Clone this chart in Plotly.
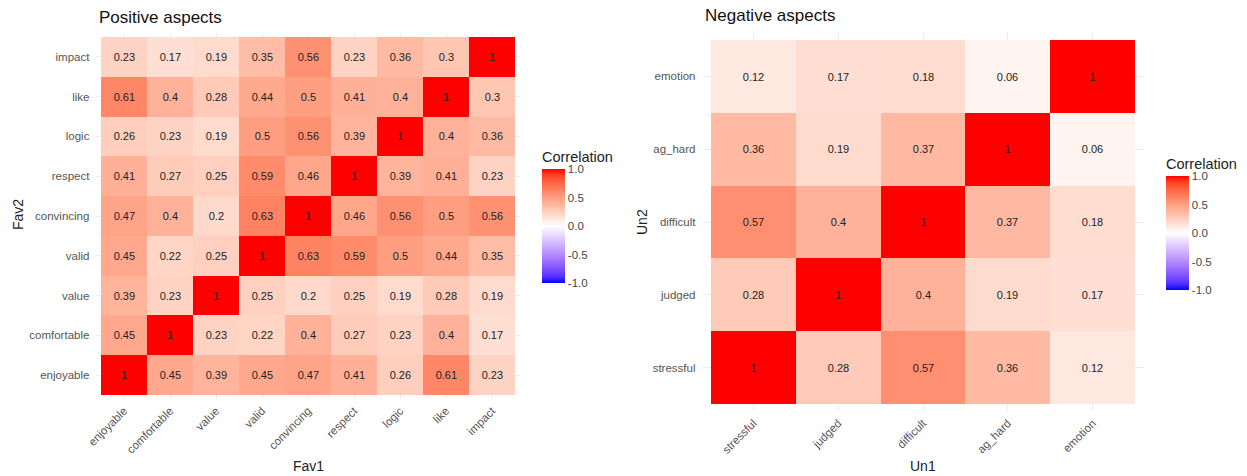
import plotly.graph_objects as go

# ---------------- data ----------------
pos_labels = ["enjoyable", "comfortable", "value", "valid", "convincing",
              "respect", "logic", "like", "impact"]
# rows follow pos_labels order (bottom -> top), columns follow pos_labels order
pos_enjoyable   = [1, 0.45, 0.39, 0.45, 0.47, 0.41, 0.26, 0.61, 0.23]
pos_comfortable = [0.45, 1, 0.23, 0.22, 0.4, 0.27, 0.23, 0.4, 0.17]
pos_value       = [0.39, 0.23, 1, 0.25, 0.2, 0.25, 0.19, 0.28, 0.19]
pos_valid       = [0.45, 0.22, 0.25, 1, 0.63, 0.59, 0.5, 0.44, 0.35]
pos_convincing  = [0.47, 0.4, 0.2, 0.63, 1, 0.46, 0.56, 0.5, 0.56]
pos_respect     = [0.41, 0.27, 0.25, 0.59, 0.46, 1, 0.39, 0.41, 0.23]
pos_logic       = [0.26, 0.23, 0.19, 0.5, 0.56, 0.39, 1, 0.4, 0.36]
pos_like        = [0.61, 0.4, 0.28, 0.44, 0.5, 0.41, 0.4, 1, 0.3]
pos_impact      = [0.23, 0.17, 0.19, 0.35, 0.56, 0.23, 0.36, 0.3, 1]

neg_labels = ["stressful", "judged", "difficult", "ag_hard", "emotion"]
neg_stressful = [1, 0.28, 0.57, 0.36, 0.12]
neg_judged    = [0.28, 1, 0.4, 0.19, 0.17]
neg_difficult = [0.57, 0.4, 1, 0.37, 0.18]
neg_ag_hard   = [0.36, 0.19, 0.37, 1, 0.06]
neg_emotion   = [0.12, 0.17, 0.18, 0.06, 1]

cb_ticks = [-1, -0.5, 0, 0.5, 1]
cb_ticktext = ["-1.0", "-0.5", "0.0", "0.5", "1.0"]

pos_z = [pos_enjoyable, pos_comfortable, pos_value, pos_valid, pos_convincing,
         pos_respect, pos_logic, pos_like, pos_impact]
neg_z = [neg_stressful, neg_judged, neg_difficult, neg_ag_hard, neg_emotion]


# ------------- Lab interpolation (like ggplot gradient2) -------------
def _lin(c):
    c = c / 255
    return c / 12.92 if c <= 0.04045 else ((c + 0.055) / 1.055) ** 2.4


def _unlin(c):
    c = 12.92 * c if c <= 0.0031308 else 1.055 * c ** (1 / 2.4) - 0.055
    return max(0, min(255, round(c * 255)))


WX, WY, WZ = 0.95047, 1.0, 1.08883


def rgb2lab(rgb):
    r, g, b = [_lin(v) for v in rgb]
    x = 0.4124564 * r + 0.3575761 * g + 0.1804375 * b
    y = 0.2126729 * r + 0.7151522 * g + 0.0721750 * b
    z = 0.0193339 * r + 0.1191920 * g + 0.9503041 * b

    def f(t):
        return t ** (1 / 3) if t > 216 / 24389 else (24389 / 27 * t + 16) / 116
    fx, fy, fz = f(x / WX), f(y / WY), f(z / WZ)
    return (116 * fy - 16, 500 * (fx - fy), 200 * (fy - fz))


def lab2rgb(lab):
    L, a, b = lab
    fy = (L + 16) / 116
    fx = fy + a / 500
    fz = fy - b / 200

    def finv(t):
        return t ** 3 if t ** 3 > 216 / 24389 else (116 * t - 16) / (24389 / 27)
    x, y, z = finv(fx) * WX, finv(fy) * WY, finv(fz) * WZ
    r = 3.2404542 * x - 1.5371385 * y - 0.4985314 * z
    g = -0.9692660 * x + 1.8760108 * y + 0.0415560 * z
    bb = 0.0556434 * x - 0.2040259 * y + 1.0572252 * z
    return (_unlin(r), _unlin(g), _unlin(bb))


blue, white, red = (0, 0, 255), (255, 255, 255), (255, 0, 0)
lb, lw, lr = rgb2lab(blue), rgb2lab(white), rgb2lab(red)
scale = []
n = 20
for i in range(n + 1):
    t = i / n
    if t <= 0.5:
        u = t / 0.5
        lab = tuple(lb[k] + (lw[k] - lb[k]) * u for k in range(3))
    else:
        u = (t - 0.5) / 0.5
        lab = tuple(lw[k] + (lr[k] - lw[k]) * u for k in range(3))
    c = lab2rgb(lab)
    scale.append([t, f"rgb({c[0]},{c[1]},{c[2]})"])

FONT = "Liberation Sans, Arial, sans-serif"
W, H = 1247, 476


def px(x):
    return x / W


def py(y):
    return 1 - y / H


def fmt(v):
    return f"{v:g}"


fig = go.Figure()

fig.add_trace(go.Heatmap(
    x=pos_labels, y=pos_labels, z=pos_z,
    text=[[fmt(v) for v in row] for row in pos_z],
    texttemplate="%{text}", textfont=dict(family=FONT, size=11, color="#222"),
    coloraxis="coloraxis", xaxis="x", yaxis="y", hoverinfo="skip"))

fig.add_trace(go.Heatmap(
    x=neg_labels, y=neg_labels, z=neg_z,
    text=[[fmt(v) for v in row] for row in neg_z],
    texttemplate="%{text}", textfont=dict(family=FONT, size=11, color="#222"),
    coloraxis="coloraxis2", xaxis="x2", yaxis="y2", hoverinfo="skip"))

axis_common = dict(showgrid=True, gridcolor="#ebebeb", gridwidth=1, zeroline=False,
                   showline=False, ticks="", automargin=False,
                   tickfont=dict(family=FONT, size=11.5, color="#555"),
                   fixedrange=True)

cb_common = dict(
    tickvals=cb_ticks, ticktext=cb_ticktext, ticks="", outlinewidth=0,
    thickness=23, lenmode="pixels", len=135, xanchor="left", yanchor="middle",
    xpad=0, ypad=0, tickfont=dict(family=FONT, size=11.5, color="#444"),
    title=dict(text="Correlation", side="top", font=dict(family=FONT, size=14.5, color="#222")))

fig.update_layout(
    width=W, height=H, margin=dict(l=0, r=0, t=0, b=0),
    paper_bgcolor="white", plot_bgcolor="white",
    font=dict(family=FONT),
    xaxis=dict(domain=[px(96.4), px(519.6)], range=[-0.6, 8.6], tickangle=-45,
               anchor="y", ticklabelstandoff=2, **axis_common),
    yaxis=dict(domain=[py(399), py(33)], range=[-0.6, 8.6], anchor="x",
               ticklabelstandoff=6, **axis_common),
    xaxis2=dict(domain=[px(702.5), px(1143.5)], range=[-0.6, 4.6], tickangle=-45,
                anchor="y2", ticklabelstandoff=2, **axis_common),
    yaxis2=dict(domain=[py(411.3), py(32.7)], range=[-0.6, 4.6], anchor="x2",
                ticklabelstandoff=6, **axis_common),
    coloraxis=dict(cmin=-1, cmax=1, colorscale=scale,
                   colorbar=dict(x=px(542), y=py(215.5), **cb_common)),
    coloraxis2=dict(cmin=-1, cmax=1, colorscale=scale,
                    colorbar=dict(x=px(1166), y=py(222.5), **cb_common)),
)

ann = [
    dict(text="Positive aspects", x=px(97), y=py(18), xanchor="left", yanchor="middle",
         font=dict(size=17, color="#111")),
    dict(text="Negative aspects", x=px(703), y=py(16), xanchor="left", yanchor="middle",
         font=dict(size=17, color="#111")),
    dict(text="Fav1", x=px(308), y=py(466), xanchor="center", yanchor="middle",
         font=dict(size=14, color="#222")),
    dict(text="Un1", x=px(923), y=py(466), xanchor="center", yanchor="middle",
         font=dict(size=14, color="#222")),
    dict(text="Fav2", x=px(18), y=py(215), xanchor="center", yanchor="middle", textangle=-90,
         font=dict(size=14, color="#222")),
    dict(text="Un2", x=px(642), y=py(222), xanchor="center", yanchor="middle", textangle=-90,
         font=dict(size=14, color="#222")),
]
for a in ann:
    a.update(xref="paper", yref="paper", showarrow=False)
    a["font"]["family"] = FONT
fig.update_layout(annotations=ann)

fig.write_html("out.html")
